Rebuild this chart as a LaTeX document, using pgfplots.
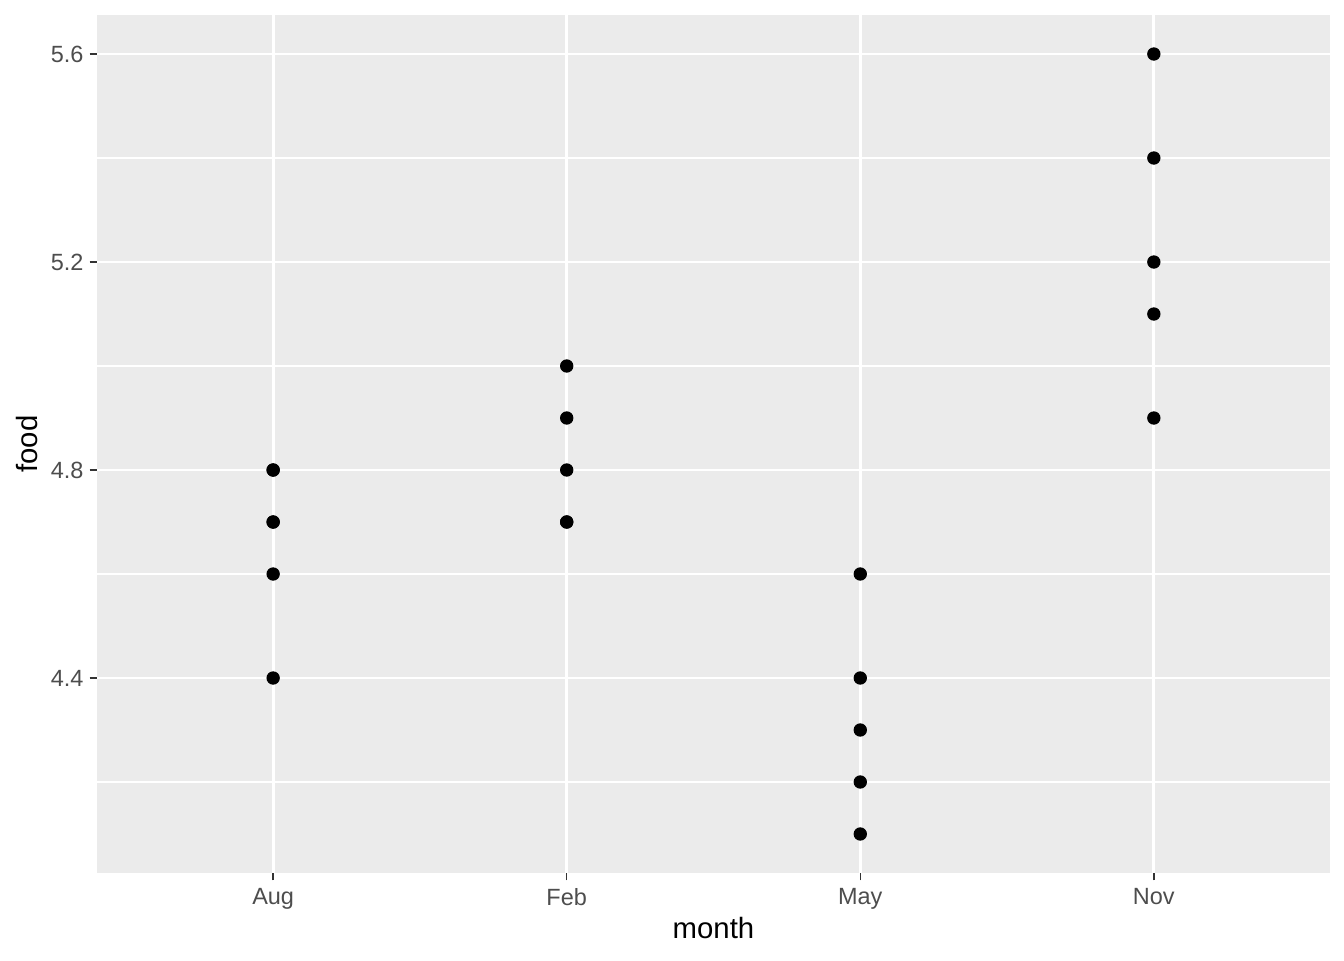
\documentclass[border=0pt]{standalone}
\usepackage{fontspec}
\setmainfont{Liberation Sans}
\usepackage{pgfplots}
\pgfplotsset{compat=1.18}
\definecolor{panelgrey}{HTML}{EBEBEB}
\definecolor{ticktext}{HTML}{4D4D4D}
\definecolor{tickmark}{HTML}{333333}

\begin{document}
\begin{tikzpicture}
\useasboundingbox (0,0) rectangle (504pt,360pt);
\begin{axis}[
  at={(36.375pt,32.625pt)},anchor=south west,
  scale only axis,width=462.375pt,height=321.75pt,
  xmin=-0.6,xmax=3.6,ymin=4.025,ymax=5.675,
  axis background/.style={fill=panelgrey},
  axis line style={draw=none},
  xtick={0,1,2,3},xticklabels={Aug,Feb,May,Nov},
  ytick={4.4,4.8,5.2,5.6},
  minor ytick={4.2,4.6,5.0,5.4},
  yticklabel style={/pgf/number format/fixed,/pgf/number format/precision=1,/pgf/number format/fixed zerofill},
  /pgf/number format/assume math mode=true,
  tick align=outside,major tick length=2.75pt,minor tick length=0pt,
  tick style={tickmark,line width=0.53pt},
  xtick pos=bottom,ytick pos=left,
  tick label style={font=\fontsize{8.8}{10}\selectfont,text=ticktext},
  xticklabel style={yshift=0.4pt},
  yticklabel style={xshift=1.2pt},
  grid=both,
  major grid style={white,line width=1.07pt},
  minor grid style={white,line width=0.53pt},
  xlabel={month},ylabel={food},
  label style={font=\fontsize{11}{13}\selectfont},
  xlabel style={yshift=3.9pt},
  ylabel style={yshift=-1.9pt},
]
\addplot[only marks,mark=*,mark size=2.3pt,mark options={fill=black,draw=black}] coordinates {
(0,4.8) (0,4.8) (0,4.7) (0,4.7) (0,4.6) (0,4.4)
(1,5.0) (1,4.9) (1,4.8) (1,4.7) (1,4.7)
(2,4.6) (2,4.4) (2,4.3) (2,4.2) (2,4.1)
(3,5.6) (3,5.4) (3,5.2) (3,5.1) (3,4.9)
};
\end{axis}
\end{tikzpicture}
\end{document}
